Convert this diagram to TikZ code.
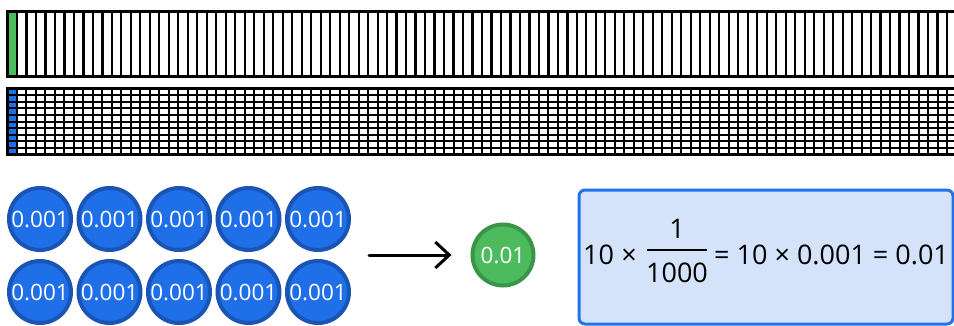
\documentclass[tikz,border=0pt]{standalone}
\usepackage{fontspec}
\setmainfont{Open Sans}
\usetikzlibrary{arrows.meta}
\definecolor{gfill}{HTML}{4CBB5E}
\definecolor{gdraw}{HTML}{3A9548}
\definecolor{bfill}{HTML}{1F6FE8}
\definecolor{bdraw}{HTML}{1A55B5}
\definecolor{boxfill}{HTML}{D4E3FA}
\definecolor{boxdraw}{HTML}{2373E8}
\tikzset{
  coin/.style={circle, minimum size=62pt, inner sep=0pt, line width=4pt, draw=bdraw, fill=bfill, text=white, font=\fontsize{22.5}{22.5}\selectfont},
  gcoin/.style={circle, minimum size=61pt, inner sep=0pt, line width=4pt, draw=gdraw, fill=gfill, text=white, font=\fontsize{22.5}{22.5}\selectfont},
  eqtext/.style={inner sep=0pt, font=\fontsize{27}{27}\selectfont, anchor=base west},
}
\begin{document}
\begin{tikzpicture}[x=1pt,y=-1pt]
\useasboundingbox (0,0) rectangle (954,325);
\clip (0,0) rectangle (954,325);
% top bar
\fill[gfill] (7.5,11.5) rectangle (16.99,76.5);
\foreach \i in {1,...,99} \draw[line width=2.2pt] ({7.5+9.49*\i},11.5) -- ++(0,65);
\draw[line width=3.2pt] (7.5,11.5) rectangle (956.5,76.5);
% second bar
\fill[bfill] (7.5,88.5) rectangle (16.99,154.5);
\foreach \i in {1,...,99} \draw[line width=2pt] ({7.5+9.49*\i},88.5) -- ++(0,66);
\foreach \j in {1,...,9} \draw[line width=2pt] (7.5,{88.5+6.6*\j}) -- (956.5,{88.5+6.6*\j});
\draw[line width=2.5pt] (7.5,88.5) rectangle (956.5,154.5);
% coins
\foreach \k [count=\n] in {0,...,4} {
  \node[coin] (t\n) at ({40+69.5*\k},219) {0.001};
  \node[coin] (b\n) at ({40+69.5*\k},292) {0.001};
}
\node[gcoin] (g) at (503,255) {0.01};
\coordinate (a1) at (369,255);
\draw[line width=3pt, line cap=round, -{Straight Barb[length=14pt,width=26pt,line width=3pt]}] (a1) -- ([xshift=-19pt]g.west);
% formula box
\node[draw=boxdraw, fill=boxfill, line width=3pt, rounded corners=6pt, minimum width=374pt, minimum height=134pt, anchor=north west] (box) at (577.5,188.5) {};
\node[eqtext] (e1) at (583,264) {10};
\node[eqtext, anchor=base] (times) at (629,264) {×};
\node[eqtext, anchor=base] (num) at (677,238) {1};
\draw[line width=2pt] (647,250) -- (707,250);
\node[eqtext, anchor=base] (den) at (677,282) {1000};
\node[eqtext] (e2) at (714,264) {= 10 × 0.001 = 0.01};
\end{tikzpicture}
\end{document}
